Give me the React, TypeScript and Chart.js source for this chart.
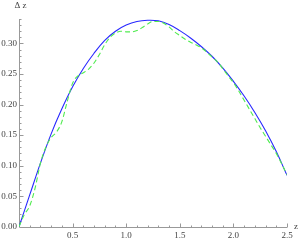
import React, { useEffect, useRef } from "react";
import { Chart, registerables } from "chart.js";

Chart.register(...registerables);

const zBlue = [0, 0.1, 0.2, 0.3, 0.4, 0.5, 0.6, 0.7, 0.8, 0.9, 1.0, 1.1, 1.2, 1.3, 1.4, 1.5, 1.6, 1.7, 1.8, 1.9, 2.0, 2.1, 2.2, 2.3, 2.4, 2.5];
const blueValues = [0, 0.052, 0.104, 0.152, 0.193, 0.229, 0.259, 0.284, 0.305, 0.32, 0.33, 0.336, 0.338, 0.337, 0.331, 0.321, 0.309, 0.295, 0.279, 0.26, 0.238, 0.214, 0.187, 0.157, 0.123, 0.084];

const zGreen = [0, 0.05, 0.1, 0.15, 0.2, 0.25, 0.3, 0.35, 0.4, 0.45, 0.5, 0.55, 0.6, 0.65, 0.7, 0.75, 0.8, 0.85, 0.9, 0.95, 1.0, 1.05, 1.1, 1.15, 1.2, 1.25, 1.3, 1.35, 1.4, 1.45, 1.5, 1.55, 1.6, 1.65, 1.7, 1.75, 1.8, 1.85, 1.9, 1.95, 2.0, 2.05, 2.1, 2.15, 2.2, 2.25, 2.3, 2.35, 2.4, 2.45, 2.5];
const greenValues = [0, 0.02, 0.034, 0.063, 0.104, 0.13, 0.146, 0.155, 0.172, 0.205, 0.235, 0.247, 0.252, 0.258, 0.268, 0.282, 0.298, 0.31, 0.317, 0.32, 0.319, 0.319, 0.321, 0.326, 0.332, 0.336, 0.336, 0.333, 0.327, 0.319, 0.313, 0.307, 0.302, 0.298, 0.293, 0.286, 0.278, 0.27, 0.259, 0.247, 0.236, 0.222, 0.207, 0.192, 0.177, 0.162, 0.148, 0.134, 0.12, 0.103, 0.085];

const xTickLabels = ["0.5", "1.0", "1.5", "2.0", "2.5"];
const yTickLabels = ["0.00", "0.05", "0.10", "0.15", "0.20", "0.25", "0.30"];
const xAxisTitle = "z";
const yAxisTitle = "Δ z";

const X_MIN = 0;
const X_MAX = 2.5;
const Y_MIN = 0;
const Y_MAX = 0.34;

const axesPlugin = {
  id: "mmaAxes",
  beforeDatasetsDraw(chart: any) {
    const ctx = chart.ctx;
    const xs = chart.scales.x;
    const ys = chart.scales.y;
    const x0 = Math.round(xs.getPixelForValue(0)) + 0.5;
    const y0 = Math.round(ys.getPixelForValue(0)) + 0.5;
    const xEnd = xs.getPixelForValue(X_MAX);
    const yTop = ys.getPixelForValue(Y_MAX);
    ctx.save();
    ctx.strokeStyle = "#999999";
    ctx.lineWidth = 1;
    ctx.beginPath();
    ctx.moveTo(x0, y0);
    ctx.lineTo(xEnd, y0);
    ctx.moveTo(x0, y0);
    ctx.lineTo(x0, yTop);
    ctx.stroke();
    ctx.beginPath();
    for (let i = 1; i <= 25; i++) {
      const v = i * 0.1;
      const px = Math.round(xs.getPixelForValue(v)) + 0.5;
      const major = i % 5 === 0;
      ctx.moveTo(px, y0);
      ctx.lineTo(px, y0 - (major ? 4 : 2));
    }
    for (let i = 1; i <= 34; i++) {
      const v = i * 0.01;
      const py = Math.round(ys.getPixelForValue(v)) + 0.5;
      const major = i % 5 === 0;
      ctx.moveTo(x0, py);
      ctx.lineTo(x0 + (major ? 4 : 2), py);
    }
    ctx.stroke();
    ctx.fillStyle = "#444444";
    ctx.font = "9px 'Liberation Serif', serif";
    ctx.textAlign = "center";
    ctx.textBaseline = "middle";
    xTickLabels.forEach((l) => {
      const px = xs.getPixelForValue(parseFloat(l));
      ctx.fillText(l, px, y0 + 8);
    });
    ctx.textAlign = "right";
    yTickLabels.forEach((l) => {
      const py = ys.getPixelForValue(parseFloat(l));
      ctx.fillText(l, x0 - 2.5, py);
    });
    ctx.textAlign = "left";
    ctx.fillText(xAxisTitle, xEnd + 7, y0 - 1);
    ctx.fillText(yAxisTitle, x0 - 5, yTop - 13);
    ctx.restore();
  },
};

export default function App() {
  const ref = useRef<HTMLCanvasElement>(null);
  useEffect(() => {
    if (!ref.current) return;
    const chart = new Chart(ref.current, {
      type: "line",
      data: {
        datasets: [
          {
            data: zGreen.map((z, i) => ({ x: z, y: greenValues[i] })),
            borderColor: "rgb(80,235,80)",
            borderWidth: 1.1,
            borderDash: [5, 3],
            pointRadius: 0,
            cubicInterpolationMode: "monotone",
            fill: false,
          },
          {
            data: zBlue.map((z, i) => ({ x: z, y: blueValues[i] })),
            borderColor: "rgb(40,40,255)",
            borderWidth: 1.1,
            pointRadius: 0,
            tension: 0.4,
            fill: false,
          },
        ],
      },
      options: {
        animation: false,
        responsive: false,
        maintainAspectRatio: false,
        layout: { padding: { left: 19, right: 13, top: 19, bottom: 13.3 } },
        plugins: { legend: { display: false }, tooltip: { enabled: false } },
        scales: {
          x: { type: "linear", min: X_MIN, max: X_MAX, display: false },
          y: { type: "linear", min: Y_MIN, max: Y_MAX, display: false },
        },
      },
      plugins: [axesPlugin],
    });
    return () => chart.destroy();
  }, []);
  return (
    <div style={{ position: "fixed", left: 0, top: 0, width: 300, height: 240, background: "#fff" }}>
      <canvas ref={ref} width={300} height={240} style={{ width: 300, height: 240 }} />
    </div>
  );
}
